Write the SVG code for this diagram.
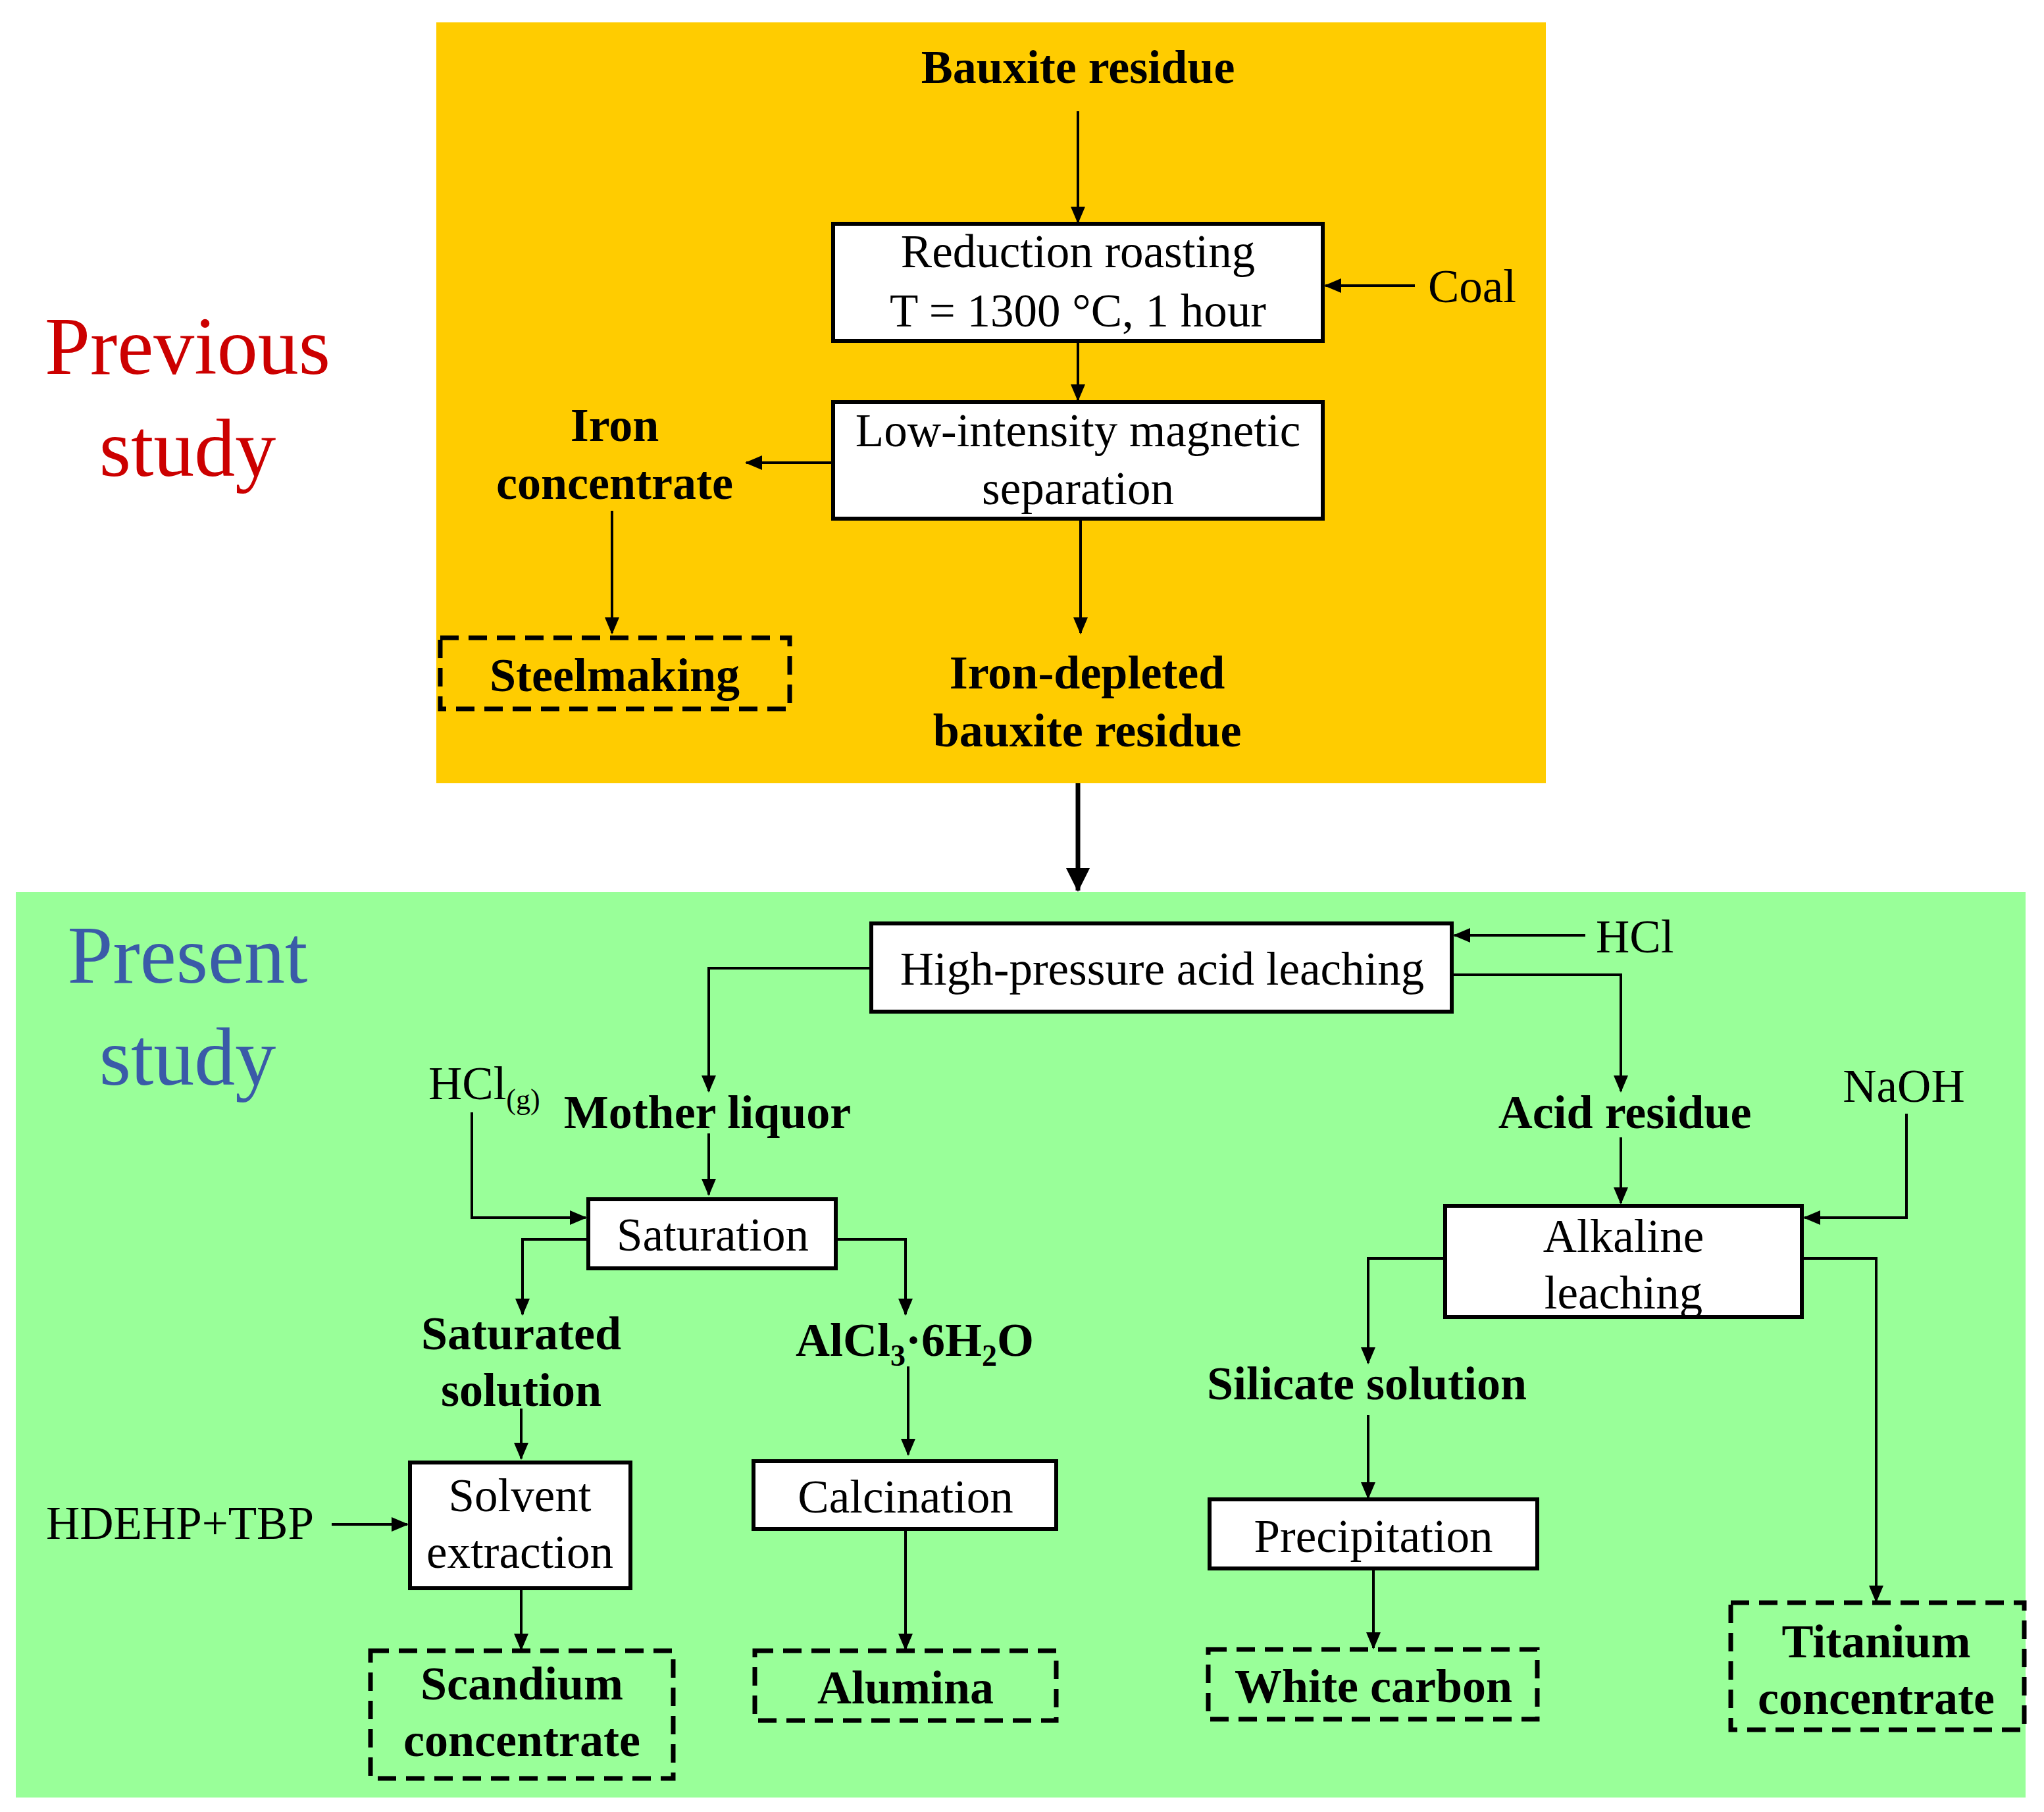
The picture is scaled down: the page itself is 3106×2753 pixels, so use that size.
<svg xmlns="http://www.w3.org/2000/svg" width="3106" height="2753" viewBox="0 0 3106 2753">
<style>
.b{fill:#fff;stroke:#000;stroke-width:6}
.d{fill:none;stroke:#000;stroke-width:7;stroke-dasharray:28 15}
.t{font-family:"Liberation Serif",serif;font-size:71px;text-anchor:middle}
.bl{font-family:"Liberation Serif",serif;font-size:72px;font-weight:bold;text-anchor:middle}
.c line,.c polyline{fill:none;stroke:#000;stroke-width:4;marker-end:url(#a)}
.big{font-family:"Liberation Serif",serif;font-size:124px;text-anchor:middle}
</style>
<defs><marker id="a" markerUnits="userSpaceOnUse" markerWidth="26" markerHeight="22" refX="24" refY="11" orient="auto"><path d="M0,0L26,11L0,22Z" fill="#000"/></marker>
<marker id="a2" markerUnits="userSpaceOnUse" markerWidth="36" markerHeight="36" refX="34" refY="18" orient="auto"><path d="M0,0L36,18L0,36Z" fill="#000"/></marker></defs>
<rect x="663" y="34" width="1686" height="1156" fill="#FFCC00"/>
<rect x="24" y="1355" width="3054" height="1376" fill="#99FF99"/>
<text class="big" x="285" y="568" fill="#CC0000">Previous</text>
<text class="big" x="285" y="723" fill="#CC0000">study</text>
<text class="big" x="285" y="1493" fill="#3A5BA8">Present</text>
<text class="big" x="285" y="1648" fill="#3A5BA8">study</text>
<g class="c">
<line x1="1638" y1="169" x2="1638" y2="338"/>
<line x1="2150" y1="434" x2="2014" y2="434"/>
<line x1="1638" y1="518" x2="1638" y2="608"/>
<line x1="1266" y1="703" x2="1134" y2="703"/>
<line x1="930" y1="776" x2="930" y2="962"/>
<line x1="1642" y1="788" x2="1642" y2="962"/>
<line x1="1638" y1="1190" x2="1638" y2="1353" style="stroke-width:7;marker-end:url(#a2)"/>
<line x1="2409" y1="1421" x2="2210" y2="1421"/>
<polyline points="1324,1471 1077,1471 1077,1658"/>
<line x1="1077" y1="1722" x2="1077" y2="1815"/>
<polyline points="717,1690 717,1850 890,1850"/>
<polyline points="894,1883 794,1883 794,1997"/>
<polyline points="1270,1883 1376,1883 1376,1997"/>
<line x1="792" y1="2140" x2="792" y2="2216"/>
<line x1="1380" y1="2076" x2="1380" y2="2210"/>
<line x1="504" y1="2316" x2="619" y2="2316"/>
<line x1="792" y1="2413" x2="792" y2="2506"/>
<line x1="1376" y1="2323" x2="1376" y2="2506"/>
<polyline points="2206,1481 2463,1481 2463,1658"/>
<line x1="2463" y1="1728" x2="2463" y2="1828"/>
<polyline points="2897,1692 2897,1850 2742,1850"/>
<polyline points="2196,1912 2079,1912 2079,2071"/>
<polyline points="2738,1912 2851,1912 2851,2433"/>
<line x1="2079" y1="2150" x2="2079" y2="2276"/>
<line x1="2087" y1="2383" x2="2087" y2="2504"/>
</g>
<text class="bl" x="1638" y="126">Bauxite residue</text>
<g id="roast"><rect class="b" x="1266" y="340" width="744" height="178"/><text class="t" x="1638" y="406">Reduction roasting</text><text class="t" x="1638" y="496">T = 1300 °C, 1 hour</text></g>
<text class="t" x="2170" y="459" style="text-anchor:start">Coal</text>
<g id="lims"><rect class="b" x="1266" y="611" width="744" height="177"/><text class="t" x="1638" y="678">Low-intensity magnetic</text><text class="t" x="1638" y="766">separation</text></g>
<text class="bl" x="934" y="670">Iron</text><text class="bl" x="934" y="758">concentrate</text>
<g id="steel"><rect class="d" x="669" y="969" width="531" height="108"/><text class="bl" x="934" y="1050">Steelmaking</text></g>
<text class="bl" x="1652" y="1046">Iron-depleted</text><text class="bl" x="1652" y="1134">bauxite residue</text>
<g id="hpal"><rect class="b" x="1324" y="1403" width="882" height="134"/><text class="t" x="1766" y="1496">High-pressure acid leaching</text></g>
<text class="t" x="2425" y="1447" style="text-anchor:start">HCl</text>
<text class="bl" x="1075" y="1714">Mother liquor</text>
<text class="t" x="651" y="1670" style="text-anchor:start">HCl<tspan font-size="44" dy="15">(g)</tspan></text>
<g id="sat"><rect class="b" x="894" y="1822" width="376" height="105"/><text class="t" x="1083" y="1900">Saturation</text></g>
<text class="bl" x="792" y="2050">Saturated</text><text class="bl" x="792" y="2136">solution</text>
<text class="bl" x="1390" y="2060">AlCl<tspan font-size="46" dy="15">3</tspan><tspan dy="-15">·6H</tspan><tspan font-size="46" dy="15">2</tspan><tspan dy="-15">O</tspan></text>
<g id="sx"><rect class="b" x="623" y="2222" width="335" height="191"/><text class="t" x="790" y="2296">Solvent</text><text class="t" x="790" y="2382">extraction</text></g>
<text class="t" x="70" y="2338" style="text-anchor:start">HDEHP+TBP</text>
<g id="sc"><rect class="d" x="563" y="2508" width="460" height="194"/><text class="bl" x="793" y="2582">Scandium</text><text class="bl" x="793" y="2668">concentrate</text></g>
<g id="calc"><rect class="b" x="1145" y="2220" width="460" height="103"/><text class="t" x="1376" y="2298">Calcination</text></g>
<g id="alu"><rect class="d" x="1147" y="2508" width="458" height="106"/><text class="bl" x="1376" y="2588">Alumina</text></g>
<text class="bl" x="2469" y="1714">Acid residue</text>
<text class="t" x="2893" y="1674">NaOH</text>
<g id="alk"><rect class="b" x="2196" y="1832" width="542" height="169"/><text class="t" x="2467" y="1902">Alkaline</text><text class="t" x="2467" y="1988">leaching</text></g>
<text class="bl" x="2077" y="2126">Silicate solution</text>
<g id="prec"><rect class="b" x="1838" y="2278" width="498" height="105"/><text class="t" x="2087" y="2358">Precipitation</text></g>
<g id="wc"><rect class="d" x="1836" y="2506" width="500" height="106"/><text class="bl" x="2087" y="2586">White carbon</text></g>
<g id="ti"><rect class="d" x="2630" y="2435" width="446" height="193"/><text class="bl" x="2851" y="2518">Titanium</text><text class="bl" x="2851" y="2604">concentrate</text></g>
</svg>
